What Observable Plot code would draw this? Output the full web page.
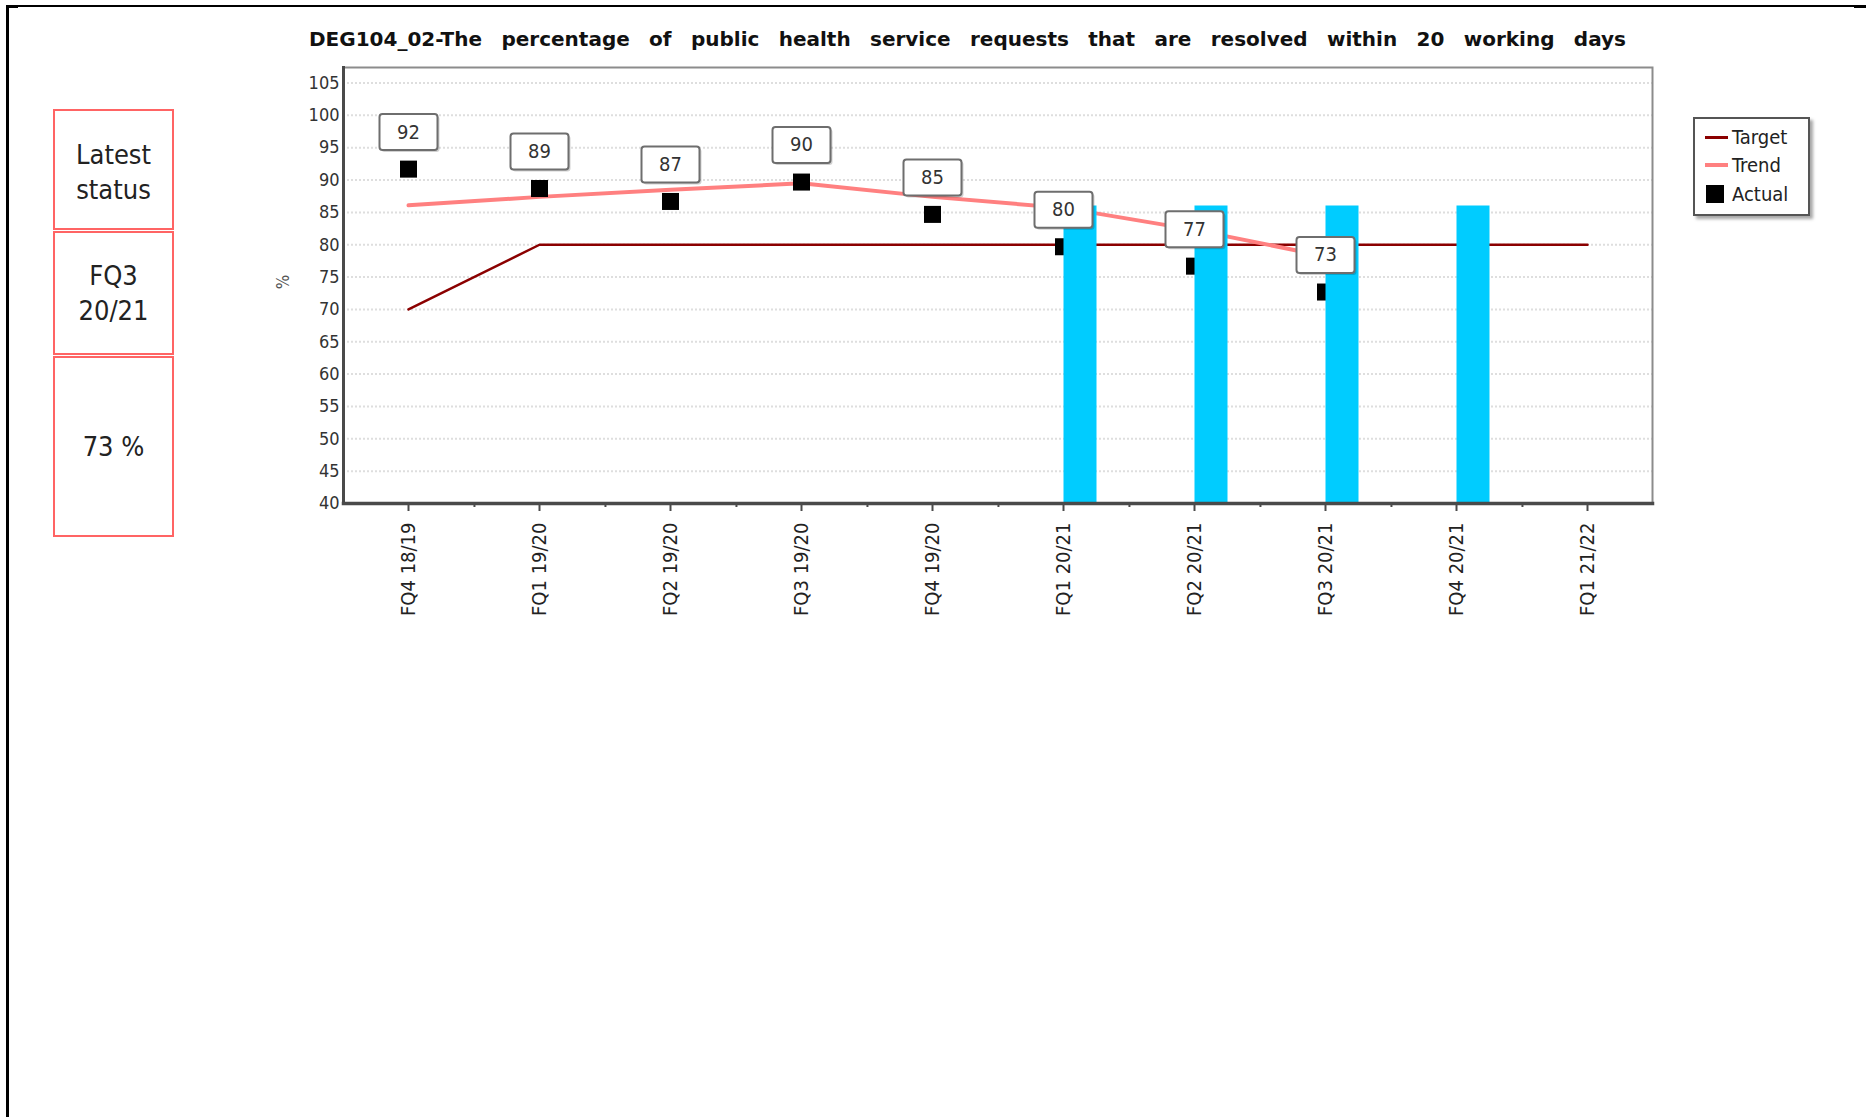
<!DOCTYPE html>
<html>
<head>
<meta charset="utf-8">
<script src="https://cdn.jsdelivr.net/npm/d3@7"></script>
<script src="https://cdn.jsdelivr.net/npm/@observablehq/plot@0.6"></script>
<style>
html, body { margin: 0; padding: 0; background: #fff; }
#page { position: relative; width: 1866px; height: 1117px; overflow: hidden;
  font-family: "DejaVu Sans Condensed", "DejaVu Sans", sans-serif; font-stretch: condensed; color: #222; }
.bline { position: absolute; background: #000; }
.status { position: absolute; left: 53px; width: 117px; border: 2px solid #ff6464;
  display: flex; align-items: center; justify-content: center; text-align: center;
  font-size: 27px; line-height: 35px; color: #222; }
#chart { position: absolute; left: 0; top: 0; }
#title { position: absolute; left: 309px; top: 26px; font-weight: bold; font-size: 20px;
  font-family: "DejaVu Sans", sans-serif; font-stretch: normal;
  line-height: 26px; white-space: nowrap; color: #111; }
#ylab { position: absolute; left: 283px; top: 282px; font-size: 17px; color: #555;
  transform: translate(-50%, -50%) rotate(-90deg); white-space: nowrap; line-height: 18px; }
#legend { position: absolute; left: 1693px; top: 117px; width: 113px; height: 95px;
  border: 2px solid #555; background: #fff; box-shadow: 3px 3px 3px rgba(0,0,0,0.35); }
#legend .sw { position: absolute; }
#legend .lt { position: absolute; left: 37px; font-size: 20px; line-height: 22px; color: #222; }
</style>
</head>
<body>
<div id="page">
  <div class="bline" style="left:6px;top:5px;width:1860px;height:2px;"></div>
  <div class="bline" style="left:6px;top:5px;width:3px;height:1112px;"></div>
  <div class="bline" style="left:6px;top:5px;width:12px;height:3px;"></div>
  <div class="bline" style="left:1854px;top:5px;width:12px;height:3px;"></div>

  <div id="status1" class="status" style="top:109px;padding-top:4px;height:113px;"></div>
  <div id="status2" class="status" style="top:231px;height:120px;"></div>
  <div id="status3" class="status" style="top:356px;height:177px;"></div>

  <div id="chart"></div>
  <div id="title"></div>
  <div id="ylab"></div>

  <div id="legend">
    <div class="sw" style="left:10px;top:17px;width:23px;height:3px;background:#8b0000;"></div>
    <div class="lt" id="lg0" style="top:7px;"></div>
    <div class="sw" style="left:10px;top:44px;width:23px;height:4px;background:#ff8080;"></div>
    <div class="lt" id="lg1" style="top:35px;"></div>
    <div class="sw" style="left:11px;top:66px;width:18px;height:18px;background:#000;"></div>
    <div class="lt" id="lg2" style="top:64px;"></div>
  </div>
</div>
<script>
// ---------- data ----------
const titleText = "DEG104_02-The percentage of public health service requests that are resolved within 20 working days";
const statusLines = [["Latest", "status"], ["FQ3", "20/21"], ["73 %"]];
const legendLabels = ["Target", "Trend", "Actual"];
const yAxisLabel = "%";

const categories = ["FQ4 18/19", "FQ1 19/20", "FQ2 19/20", "FQ3 19/20", "FQ4 19/20",
                    "FQ1 20/21", "FQ2 20/21", "FQ3 20/21", "FQ4 20/21", "FQ1 21/22"];
const actualValues = [92, 89, 87, 90, 85, 80, 77, 73];
const trendValues = [86.1, 87.4, 88.5, 89.5, 87.4, 85.7, 82.3, 78.2];
const targetValues = [70, 80, 80, 80, 80, 80, 80, 80, 80, 80];
const barCategories = ["FQ1 20/21", "FQ2 20/21", "FQ3 20/21", "FQ4 20/21"];
const barValues = [86, 86, 86, 86];
const yTicks = [40, 45, 50, 55, 60, 65, 70, 75, 80, 85, 90, 95, 100, 105];
const yDomain = [40, 107.4];

// ---------- text ----------
statusLines.forEach((lines, i) => {
  const el = document.getElementById("status" + (i + 1));
  const inner = document.createElement("div");
  lines.forEach((s, j) => {
    if (j) inner.appendChild(document.createElement("br"));
    inner.appendChild(document.createTextNode(s));
  });
  el.appendChild(inner);
});
legendLabels.forEach((s, i) => document.getElementById("lg" + i).textContent = s);
document.getElementById("ylab").textContent = yAxisLabel;
const tEl = document.getElementById("title");
tEl.textContent = titleText;

// ---------- tables ----------
const actual = actualValues.map((v, i) => ({q: categories[i], v}));
const trend = trendValues.map((v, i) => ({q: categories[i], v}));
const target = targetValues.map((v, i) => ({q: categories[i], v}));
const bars = barValues.map((v, i) => ({q: barCategories[i], v}));

// ---------- layout ----------
const W = 1866, H = 620, ML = 343, MR = 214, MT = 67, MB = 117;
const pad = 0.4625;
const step = (W - ML - MR) / (categories.length - 1 + 2 * pad);
const FONT = '"DejaVu Sans Condensed", "DejaVu Sans", sans-serif';

const boxSymbol = {
  draw(c) {
    const x0 = -29, y0 = -18, x1 = 29, y1 = 18, r = 3;
    c.moveTo(x0 + r, y0); c.lineTo(x1 - r, y0); c.arcTo(x1, y0, x1, y0 + r, r);
    c.lineTo(x1, y1 - r); c.arcTo(x1, y1, x1 - r, y1, r);
    c.lineTo(x0 + r, y1); c.arcTo(x0, y1, x0, y1 - r, r);
    c.lineTo(x0, y0 + r); c.arcTo(x0, y0, x0 + r, y0, r); c.closePath();
  }
};

const chart = Plot.plot({
  width: W, height: H,
  marginLeft: ML, marginRight: MR, marginTop: MT, marginBottom: MB,
  style: {fontFamily: FONT, fontSize: "18px", color: "#333", background: "transparent", overflow: "visible", fontStretch: "condensed"},
  x: {type: "point", domain: categories, padding: pad, label: null},
  y: {domain: yDomain, label: null},
  marks: [
    Plot.gridY({ticks: yTicks.slice(1), stroke: "#dedede", strokeOpacity: 1, strokeWidth: 2, strokeDasharray: "2,2"}),
    Plot.line(target, {x: "q", y: "v", stroke: "#8b0000", strokeWidth: 2.5}),
    Plot.line(trend, {x: "q", y: "v", stroke: "#ff8080", strokeWidth: 4}),
    Plot.dot(actual, {x: "q", y: "v", symbol: "square", r: 9.6, fill: "#000", dy: 2}),
    Plot.ruleX(bars, {x: "q", y1: yDomain[0], y2: "v", stroke: "#00ccff", strokeWidth: 33, dx: 16.5}),
    Plot.frame({stroke: "#8c8c8c", strokeWidth: 2}),
    Plot.frame({anchor: "left", stroke: "#4a4a4a", strokeWidth: 3}),
    Plot.frame({anchor: "bottom", stroke: "#4a4a4a", strokeWidth: 3.5}),
    Plot.axisY({ticks: yTicks, tickSize: 0, tickPadding: 4, fontSize: 18, fill: "#333", label: null}),
    Plot.axisX({tickSize: 8, tickPadding: 11, tickRotate: -90, fontSize: 20, fill: "#222", label: null,
                stroke: "#4a4a4a", strokeWidth: 2}),
    Plot.axisX({ticks: categories.slice(0, -1), tickSize: 4, dx: step / 2, tickFormat: () => "", label: null,
                stroke: "#4a4a4a", strokeWidth: 2}),
    Plot.dot(actual, {x: "q", y: "v", symbol: boxSymbol, fill: "#000", fillOpacity: 0.18, stroke: "none", dx: 2, dy: -33}),
    Plot.dot(actual, {x: "q", y: "v", symbol: boxSymbol, fill: "#fff", stroke: "#6e6e6e", strokeWidth: 2, dy: -35}),
    Plot.text(actual, {x: "q", y: "v", text: d => String(d.v), dy: -35, fontSize: 20, fill: "#333"})
  ]
});
document.getElementById("chart").appendChild(chart);

// stretch title to its span in the reference
const targetWidth = 1317;
const w0 = tEl.getBoundingClientRect().width;
const nSpaces = (titleText.match(/ /g) || []).length;
tEl.style.wordSpacing = ((targetWidth - w0) / nSpaces) + "px";
</script>
</body>
</html>
